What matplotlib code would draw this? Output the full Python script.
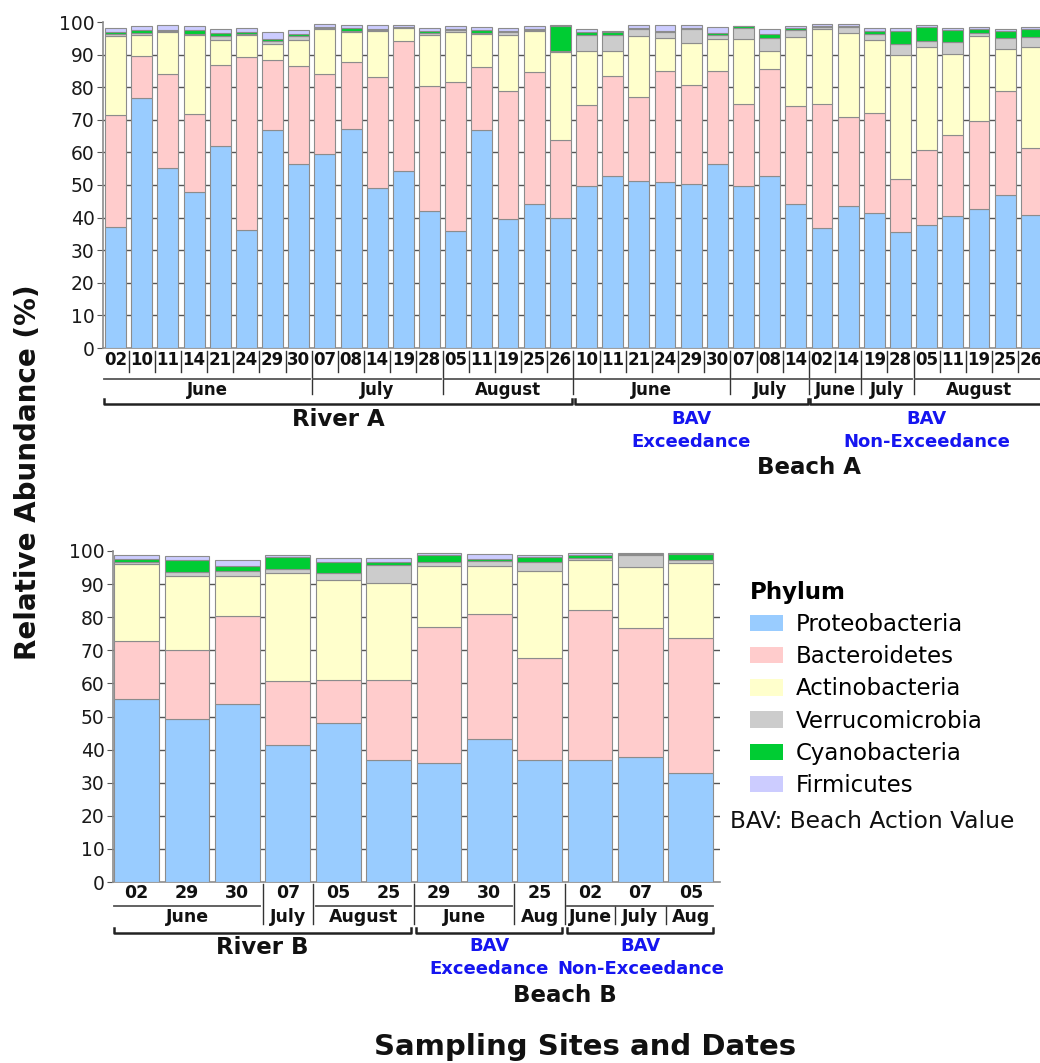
import matplotlib
matplotlib.use("Agg")
import matplotlib.pyplot as plt
import matplotlib.transforms as mtransforms
from matplotlib.patches import Patch
import numpy as np

plt.rcParams['font.family'] = ['DejaVu Sans']

phyla = ['Proteobacteria', 'Bacteroidetes', 'Actinobacteria',
         'Verrucomicrobia', 'Cyanobacteria', 'Firmicutes']
colors = ['#99CCFF', '#FFCCCC', '#FFFFCC', '#CCCCCC', '#00CC33', '#CCCCFF']

# ---------------- Top panel (River A / Beach A) ----------------
top_days = ['02', '10', '11', '14', '21', '24', '29', '30',
            '07', '08', '14', '19', '28',
            '05', '11', '19', '25', '26',
            '10', '11', '21', '24', '29', '30',
            '07', '08', '14',
            '02', '14', '19', '28', '05', '11', '19', '25', '26']
top_months = (['June'] * 8 + ['July'] * 5 + ['August'] * 5 +
              ['June'] * 6 + ['July'] * 3 +
              ['June'] * 2 + ['July'] * 2 + ['August'] * 5)
top_groups = (['River A'] * 18 + ['BAV\nExceedance'] * 9 +
              ['BAV\nNon-Exceedance'] * 9)

top_proteo = [37.0, 76.7, 55.3, 47.7, 62.1, 36.1, 66.8, 56.5, 59.4, 67.2, 49.2, 54.2,
              42.1, 35.9, 66.8, 39.6, 44.3, 39.8, 49.8, 52.7, 51.3, 51.0, 50.4, 56.4,
              49.7, 52.8, 44.2, 36.7, 43.6, 41.3, 35.7, 37.6, 40.6, 42.6, 47.0, 40.8]
top_bacter = [34.5, 13.0, 28.8, 24.2, 24.8, 53.3, 21.4, 30.0, 24.7, 20.4, 33.8, 39.9,
              38.2, 45.6, 19.4, 39.3, 40.3, 23.9, 24.6, 30.7, 25.8, 34.1, 30.2, 28.5,
              25.0, 32.7, 29.9, 38.3, 27.4, 30.7, 16.1, 23.1, 24.8, 26.9, 31.7, 20.6]
top_actino = [24.3, 6.3, 12.9, 24.2, 7.7, 6.6, 4.9, 7.9, 13.8, 9.4, 14.2, 4.0,
              15.8, 15.5, 10.0, 17.2, 12.6, 27.2, 16.8, 7.7, 18.6, 10.1, 13.0, 10.0,
              20.0, 5.7, 21.3, 22.9, 25.7, 22.6, 38.1, 31.6, 24.7, 26.1, 13.1, 30.9]
top_verruco = [0.5, 0.7, 0.3, 0.3, 1.1, 0.4, 1.2, 1.2, 0.4, 0.3, 0.3, 0.3,
               0.5, 0.6, 0.5, 0.9, 0.3, 0.3, 4.8, 4.9, 2.2, 1.8, 4.1, 1.2,
               3.5, 3.9, 2.0, 0.6, 1.7, 1.8, 3.4, 1.9, 3.7, 0.9, 3.3, 3.1]
top_cyano = [0.5, 0.8, 0.3, 1.1, 0.8, 0.5, 0.5, 0.7, 0.1, 0.8, 0.3, 0.2,
             0.5, 0.3, 0.8, 0.2, 0.5, 7.7, 0.8, 0.9, 0.4, 0.2, 0.4, 0.6,
             0.5, 1.3, 0.8, 0.3, 0.5, 0.8, 4.0, 4.3, 3.6, 1.4, 2.0, 2.4]
top_firmic = [1.5, 1.2, 1.6, 1.2, 1.2, 1.4, 2.1, 1.1, 1.1, 1.0, 1.2, 0.6,
              1.2, 1.0, 1.1, 1.1, 0.9, 0.2, 1.1, 0.3, 0.7, 1.9, 0.9, 1.8,
              0.2, 1.3, 0.6, 0.5, 0.6, 1.0, 1.0, 0.5, 0.8, 0.6, 0.9, 0.8]

# ---------------- Bottom panel (River B / Beach B) ----------------
bot_days = ['02', '29', '30', '07', '05', '25', '29', '30', '25', '02', '07', '05']
bot_months = ['June', 'June', 'June', 'July', 'August', 'August',
              'June', 'June', 'Aug', 'June', 'July', 'Aug']
bot_groups = (['River B'] * 6 + ['BAV\nExceedance'] * 3 +
              ['BAV\nNon-Exceedance'] * 3)
bot_proteo = [55.4, 49.3, 53.8, 41.3, 48.0, 36.9, 35.9, 43.3, 36.9, 37.0, 37.7, 32.9]
bot_bacter = [17.3, 20.9, 26.7, 19.4, 13.0, 24.1, 41.0, 37.7, 30.7, 45.1, 39.1, 40.8]
bot_actino = [23.3, 22.1, 11.8, 32.6, 30.3, 29.2, 18.6, 14.5, 26.3, 15.2, 18.3, 22.6]
bot_verruco = [0.7, 1.4, 1.6, 1.4, 2.2, 5.7, 1.3, 1.6, 2.8, 0.5, 3.8, 0.9]
bot_cyano = [0.9, 3.7, 1.6, 3.4, 3.2, 0.9, 2.0, 0.5, 1.4, 1.1, 0.2, 1.9]
bot_firmic = [1.3, 1.0, 1.7, 0.8, 1.1, 1.1, 0.7, 1.6, 0.6, 0.6, 0.3, 0.4]

W, H = 1040, 1063
fig = plt.figure(figsize=(W / 100, H / 100), dpi=100)
BLUE = '#1515F0'
INK = '#111111'


def fy(py):
    return 1 - py / H


def fx(px):
    return px / W


def make_axes(left, right, top, bottom):
    return fig.add_axes([fx(left), fy(bottom), fx(right) - fx(left), (bottom - top) / H])


def draw_bars(ax, series, width, xlim):
    n = len(series[0])
    x = np.arange(n)
    bottom = np.zeros(n)
    for vals, c in zip(series, colors):
        ax.bar(x, vals, width=width, bottom=bottom, color=c,
               edgecolor='#8c8c8c', linewidth=0.8, zorder=3)
        bottom += np.array(vals)
    ax.set_xlim(*xlim)
    ax.set_ylim(0, 100)
    ax.set_yticks(np.arange(0, 101, 10))
    ax.tick_params(axis='y', labelsize=13.5, length=4, width=0.8, color='#555555',
                   pad=2, labelcolor='#1a1a1a')
    ax.set_xticks([])
    for g in range(10, 100, 10):
        ax.axhline(g, color='#555555', lw=1.0, zorder=1)
    for s in ['top', 'right']:
        ax.spines[s].set_visible(False)
    ax.spines['left'].set_color('#8c8c8c')
    ax.spines['bottom'].set_color('#8c8c8c')
    ax.spines['left'].set_linewidth(1.2)
    ax.spines['bottom'].set_linewidth(1.2)


def runs(labels):
    out = []
    s = 0
    for i in range(1, len(labels) + 1):
        if i == len(labels) or labels[i] != labels[s]:
            out.append((s, i - 1))
            s = i
    return out


def vline(ax, tr, x, y0, y1):
    ax.add_line(plt.Line2D([x, x], [fy(y0), fy(y1)], transform=tr,
                           color='#333333', lw=1.0, clip_on=False))


def hline(ax, tr, x0, x1, y):
    ax.add_line(plt.Line2D([x0, x1], [fy(y), fy(y)], transform=tr,
                           color='#555555', lw=1.3, clip_on=False))


def annotate(ax, days, months, groups, y, small_seps, underline_groups,
             site_y, blue_y, site2, site2_y):
    tr = mtransforms.blended_transform_factory(ax.transData, fig.transFigure)
    n = len(days)
    keys = [g + '|' + m for g, m in zip(groups, months)]
    for i, d in enumerate(days):
        ax.text(i, fy(y['day']), d, transform=tr, ha='center', va='center',
                fontsize=y['fs'], fontweight='bold', color=INK)
    for i in range(n - 1):
        if keys[i] == keys[i + 1]:
            if small_seps:
                vline(ax, tr, i + 0.5, y['sep0'], y['sep1'])
        elif groups[i] == groups[i + 1] and groups[i] in underline_groups:
            vline(ax, tr, i + 0.5, y['ul'], y['sep2'])
        else:
            vline(ax, tr, i + 0.5, y['sep0'], y['sep2'])
    for s, e in runs(keys):
        if e > s and groups[s] not in underline_groups:
            hline(ax, tr, s - 0.45, e + 0.45, y['ul'])
        ax.text((s + e) / 2, fy(y['month']), months[s], transform=tr, ha='center',
                va='center', fontsize=y['fs2'], fontweight='bold', color=INK)
    for s, e in runs(groups):
        g = groups[s]
        if g in underline_groups:
            hline(ax, tr, s - 0.45, e + 0.45, y['ul'])
        xs = [s - 0.45, s - 0.45, e + 0.45, e + 0.45]
        ys = [fy(y['br'] - 5), fy(y['br']), fy(y['br']), fy(y['br'] - 5)]
        ax.add_line(plt.Line2D(xs, ys, transform=tr, color='#222222', lw=1.8,
                               clip_on=False))
        if g.startswith('BAV'):
            ax.text((s + e) / 2, fy(blue_y), g, transform=tr, ha='center', va='top',
                    fontsize=13, fontweight='bold', color=BLUE, linespacing=1.35)
        else:
            ax.text((s + e) / 2, fy(site_y), g, transform=tr, ha='center', va='center',
                    fontsize=16.5, fontweight='bold', color=INK)
    b = [i for i, g in enumerate(groups) if g.startswith('BAV')]
    ax.text((b[0] + b[-1]) / 2, fy(site2_y), site2, transform=tr, ha='center',
            va='center', fontsize=16.5, fontweight='bold', color=INK)


# top axes
ax1 = make_axes(103, 1047, 22, 348)
draw_bars(ax1, [top_proteo, top_bacter, top_actino, top_verruco, top_cyano, top_firmic],
          0.8, (-0.48, 35.6))
annotate(ax1, top_days, top_months, top_groups,
         dict(day=360, sep0=351, sep1=372, sep2=394, ul=379, month=390, br=404,
              fs=12, fs2=12),
         True, [], 420, 410, 'Beach A', 468)

# bottom axes
ax2 = make_axes(113, 720, 551, 882)
draw_bars(ax2, [bot_proteo, bot_bacter, bot_actino, bot_verruco, bot_cyano, bot_firmic],
          0.89, (-0.47, 11.58))
annotate(ax2, bot_days, bot_months, bot_groups,
         dict(day=893, sep0=884, sep1=884, sep2=924, ul=906, month=917, br=933,
              fs=12.5, fs2=12.5),
         False, ['BAV\nNon-Exceedance'], 948, 937, 'Beach B', 996)

# axis titles
fig.text(fx(28), fy(472), 'Relative Abundance (%)', rotation=90, ha='center',
         va='center', fontsize=20, fontweight='bold', color=INK)
fig.text(fx(585), fy(1047), 'Sampling Sites and Dates', ha='center', va='center',
         fontsize=21, fontweight='bold', color=INK)

# legend
handles = [Patch(facecolor=c, edgecolor='none') for c in colors]
leg = fig.legend(handles, phyla, loc='upper left',
                 bbox_to_anchor=(fx(750), fy(581)), frameon=False,
                 title='Phylum', alignment='left', fontsize=16.5,
                 handlelength=1.45, handleheight=0.72, labelspacing=0.40,
                 handletextpad=0.55, borderaxespad=0, borderpad=0)
leg.get_title().set_fontweight('bold')
leg.get_title().set_fontsize(16.5)
fig.text(fx(730), fy(821), 'BAV: Beach Action Value', ha='left', va='center',
         fontsize=16.8, color=INK)

fig.savefig('out.png', dpi=100)
